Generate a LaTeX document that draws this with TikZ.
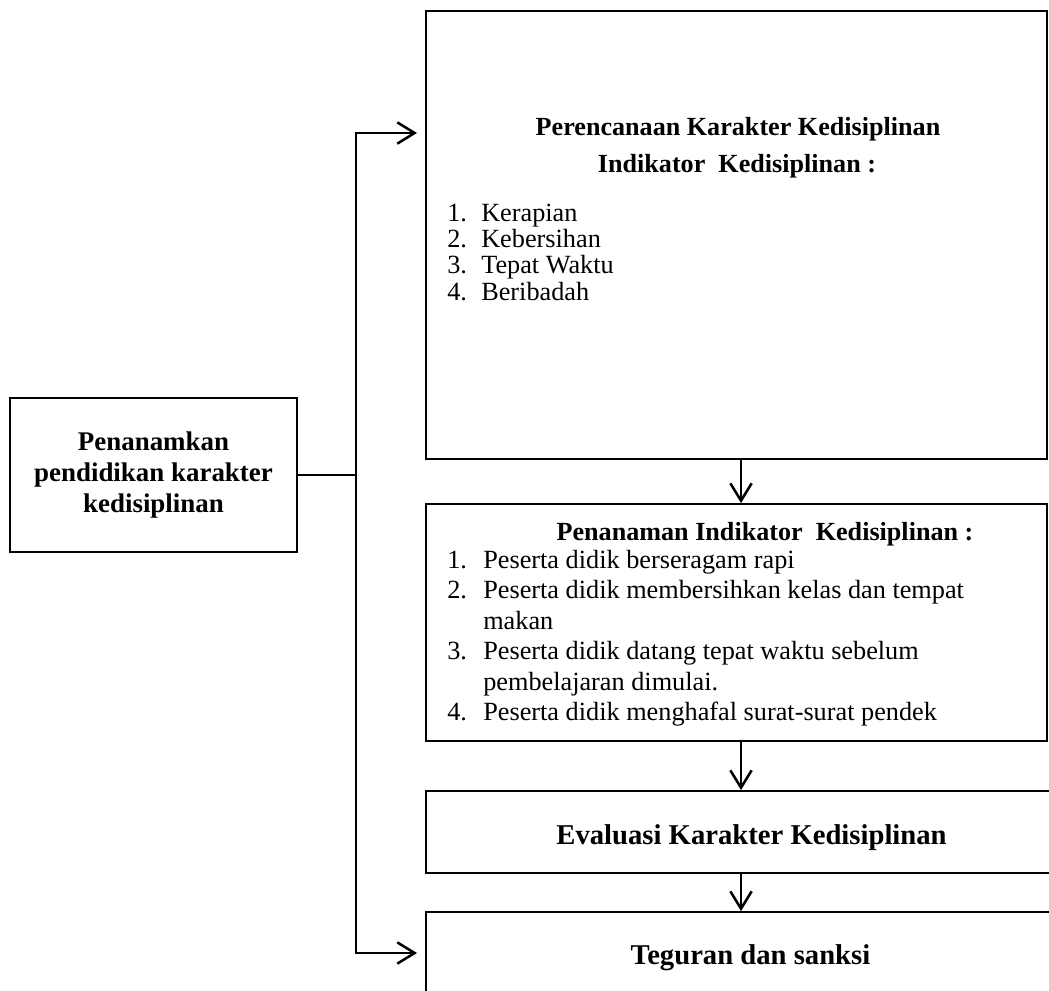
\documentclass[tikz,border=0pt]{standalone}
\usepackage{fontspec}
\setmainfont{Liberation Serif}
\usetikzlibrary{arrows.meta}
\begin{document}
\begin{tikzpicture}[x=0.75pt,y=-0.75pt,
  box/.style={draw, line width=1.4pt, rectangle, inner sep=0pt},
  conn/.style={line width=1.9pt},
  arr/.style={conn, -{Straight Barb[length=13pt,width=16pt]}},
  txt/.style={inner sep=0pt, font=\fontsize{19.7}{20}\selectfont},
  btxt/.style={inner sep=0pt, font=\fontsize{19.6}{20}\selectfont\bfseries},
  etxt/.style={inner sep=0pt, font=\fontsize{21.5}{24}\selectfont\bfseries},
]
\useasboundingbox (0,0) rectangle (1049,990);
\clip (0,0) rectangle (1049,990);

% boxes
\node[box, minimum width={287*0.75pt}, minimum height={154*0.75pt},
      align=center, font=\fontsize{20.2}{23.2}\selectfont\bfseries]
  (start) at (153.5,475) {Penanamkan\\pendidikan karakter\\kedisiplinan};
\node[box, minimum width={621*0.75pt}, minimum height={448*0.75pt}] (plan) at (736.5,235) {};
\node[box, minimum width={621*0.75pt}, minimum height={237*0.75pt}] (apply) at (736.5,622.5) {};
\node[box, minimum width={654*0.75pt}, minimum height={82*0.75pt}] (eval) at (753,832) {};
\node[box, minimum width={654*0.75pt}, minimum height={120*0.75pt}] (sanction) at (753,972) {};

% planning box text
\node[btxt, anchor=base] (planT) at (738,135) {Perencanaan Karakter Kedisiplinan};
\node[btxt, anchor=base] (planI) at (737,172) {Indikator\ \ Kedisiplinan :};
\foreach \n/\t/\y in {1/Kerapian/221, 2/Kebersihan/247.3, 3/Tepat Waktu/273.6, 4/Beribadah/300}{
  \node[txt, anchor=base west] (pn\n) at (447,\y) {\n.};
  \node[txt, anchor=base west] (pt\n) at (481,\y) {\t};
}

% applying box text
\node[btxt, anchor=base] (applyT) at (765,540) {Penanaman Indikator\ \ Kedisiplinan :};
\node[txt, anchor=base west] (an1) at (447,568) {1.};
\node[txt, anchor=base west] (at1) at (483,568) {Peserta didik berseragam rapi};
\node[txt, anchor=base west] (an2) at (447,598.5) {2.};
\node[txt, anchor=base west] (at2) at (483,598.5) {Peserta didik membersihkan kelas dan tempat};
\node[txt, anchor=base west] (at2b) at (483,629) {makan};
\node[txt, anchor=base west] (an3) at (447,659.5) {3.};
\node[txt, anchor=base west] (at3) at (483,659.5) {Peserta didik datang tepat waktu sebelum};
\node[txt, anchor=base west] (at3b) at (483,690) {pembelajaran dimulai.};
\node[txt, anchor=base west] (an4) at (447,720.5) {4.};
\node[txt, anchor=base west] (at4) at (483,720.5) {Peserta didik menghafal surat-surat pendek};

% evaluation and sanction text
\node[etxt, anchor=base] (evalT) at (751.5,844) {Evaluasi Karakter Kedisiplinan};
\node[etxt, anchor=base] (sanctionT) at (750.5,964) {Teguran dan sanksi};

% branch connectors
\coordinate (jn) at (356,475);
\coordinate (tipTop) at (417,133);
\coordinate (tipBot) at (417,953);
\draw[conn] (start.east) -- (jn);
\draw[arr] (jn) |- (tipTop);
\draw[arr] (jn) |- (tipBot);

% flow between the right-hand boxes
\coordinate (xa) at (741,0);
\draw[arr] (plan.south -| xa) -- (apply.north -| xa);
\draw[arr] (apply.south -| xa) -- (eval.north -| xa);
\draw[arr] (eval.south -| xa) -- (sanction.north -| xa);
\end{tikzpicture}
\end{document}
